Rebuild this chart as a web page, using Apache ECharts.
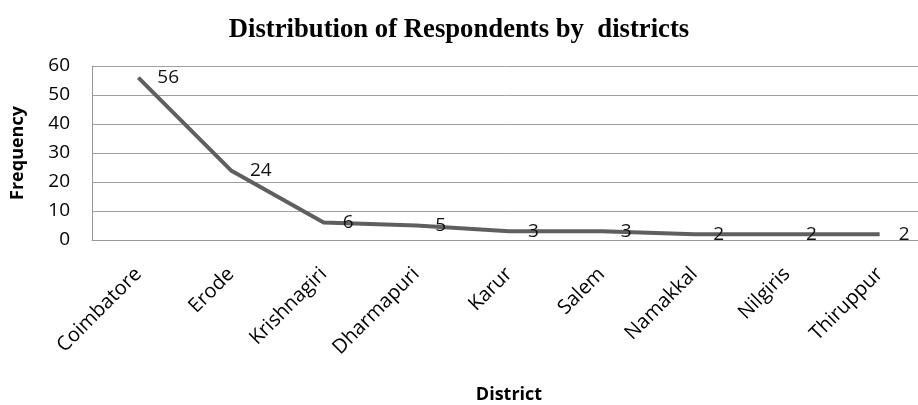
<!DOCTYPE html>
<html><head><meta charset="utf-8">
<script src="https://cdn.jsdelivr.net/npm/echarts@6/dist/echarts.min.js"></script>
<style>html,body{margin:0;padding:0;background:#fff}#c{width:918px;height:405px}</style>
</head><body><div id="c"></div>
<script>
const districts = ['Coimbatore','Erode','Krishnagiri','Dharmapuri','Karur','Salem','Namakkal','Nilgiris','Thiruppur'];
const frequency = [56,24,6,5,3,3,2,2,2];
const yTicks = {min:0, max:60, interval:10};
const chart = echarts.init(document.getElementById('c'));
chart.setOption({
  animation:false,
  backgroundColor:'#fff',
  title:{text:'Distribution of Respondents by  districts',left:'center',top:12,
    textStyle:{fontFamily:'Liberation Serif',fontWeight:'bold',fontSize:26.7,color:'#000'}},
  grid:{left:92,top:66,width:834,height:174,outerBoundsMode:'none',containLabel:false},
  xAxis:{type:'category',data:districts,boundaryGap:true,
    name:'District',nameLocation:'middle',nameGap:146,
    nameTextStyle:{fontFamily:'Open Sans',fontWeight:'bold',fontSize:18,color:'#000'},
    axisLine:{lineStyle:{color:'#999',width:1}},axisTick:{show:false},
    axisLabel:{rotate:45,margin:31,fontFamily:'Open Sans',fontSize:20,color:'#000'}},
  yAxis:{type:'value',min:yTicks.min,max:yTicks.max,interval:yTicks.interval,
    name:'Frequency',nameLocation:'middle',nameGap:65,nameRotate:90,
    nameTextStyle:{fontFamily:'Open Sans',fontWeight:'bold',fontSize:18,color:'#000'},
    axisLine:{show:true,lineStyle:{color:'#999',width:1}},axisTick:{show:false},
    splitLine:{lineStyle:{color:'#a0a0a0',width:1}},
    axisLabel:{margin:22,fontFamily:'Open Sans',fontSize:19,color:'#000'}},
  series:[{type:'line',data:frequency,symbol:'circle',symbolSize:0,showSymbol:true,
    lineStyle:{color:'#5f5f5f',width:4},itemStyle:{color:'#5f5f5f'},
    label:{show:true,position:'right',distance:19,fontFamily:'Open Sans',fontSize:19,color:'#111'}}]
});
</script></body></html>
